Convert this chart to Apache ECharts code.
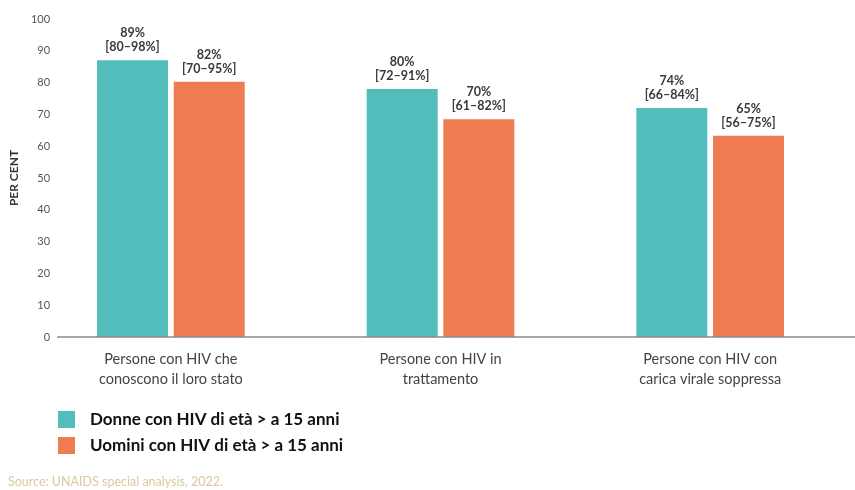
<!DOCTYPE html>
<html><head><meta charset="utf-8">
<script src="https://cdn.jsdelivr.net/npm/echarts@6/dist/echarts.min.js"></script>
<style>html,body{margin:0;padding:0;background:#fff}#c{width:855px;height:490px}</style>
</head><body><div id="c"></div>
<script>
const categories = ["Persone con HIV che\nconoscono il loro stato", "Persone con HIV in\ntrattamento", "Persone con HIV con\ncarica virale soppressa"];
const seriesNames = ["Donne con HIV di età > a 15 anni", "Uomini con HIV di età > a 15 anni"];
const womenValues = [87, 78, 72];
const menValues = [80.3, 68.5, 63.3];
const womenLabels = ["89%\n[80–98%]", "80%\n[72–91%]", "74%\n[66–84%]"];
const menLabels = ["82%\n[70–95%]", "70%\n[61–82%]", "65%\n[56–75%]"];
const yTicks = [0, 100, 10];

const chart = echarts.init(document.getElementById('c'));
const labelStyle = {show:true, position:'top', distance:6, color:'#3a3a3a', fontFamily:'Lato', fontWeight:'bold', fontSize:12.5, lineHeight:14};
chart.setOption({
  animation:false,
  grid:{left:36, right:10, top:19, bottom:153},
  legend:{orient:'vertical', left:53, top:406, itemWidth:17, itemHeight:17, itemGap:9, icon:'rect',
    textStyle:{fontFamily:'Lato', fontWeight:'bold', fontSize:17, color:'#111', padding:[0,0,0,10]}, data:seriesNames},
  xAxis:{type:'category', data:categories, axisLine:{show:false}, axisTick:{show:false},
    axisLabel:{color:'#444', fontFamily:'Lato', fontSize:14.5, lineHeight:20, margin:12}},
  yAxis:{type:'value', min:yTicks[0], max:yTicks[1], interval:yTicks[2], splitLine:{show:false},
    name:'PER CENT', nameLocation:'middle', nameRotate:90, nameGap:-23,
    nameTextStyle:{color:'#333', fontFamily:'Lato', fontWeight:'bold', fontSize:12},
    axisLine:{show:false}, axisTick:{show:false},
    axisLabel:{color:'#555', fontFamily:'Lato', fontSize:11, margin:-14}},
  graphic:[
    {type:'line', shape:{x1:57,y1:337,x2:855,y2:337}, style:{stroke:'#8a8a8a', lineWidth:1.5}, z:10},
    {type:'text', left:8, top:475, style:{text:'Source: UNAIDS special analysis, 2022.', fill:'#d9c99c', font:'12.5px Lato'}}
  ],
  series:[
    {name:seriesNames[0], type:'bar', data:womenValues, barWidth:71, barGap:'8%', itemStyle:{color:'#53BDBB'},
      label:Object.assign({formatter:p=>womenLabels[p.dataIndex]}, labelStyle)},
    {name:seriesNames[1], type:'bar', data:menValues, barWidth:71, itemStyle:{color:'#EF7B51'},
      label:Object.assign({formatter:p=>menLabels[p.dataIndex]}, labelStyle)}
  ]
});
</script></body></html>
